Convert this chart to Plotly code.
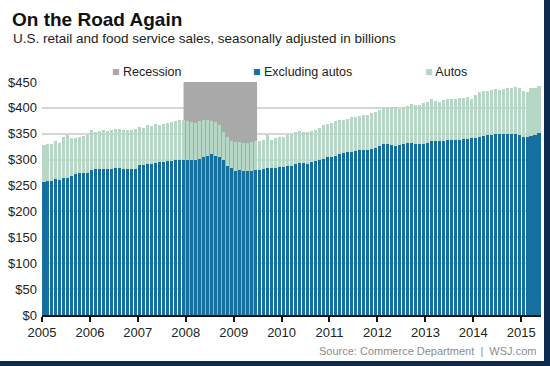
import pandas as pd
import plotly.graph_objects as go

# Monthly data, Jan 2005 - May 2015 (billions of dollars, seasonally adjusted)
start_month = "2005-01-01"
n_months = 125

excluding_autos = [
    257, 259, 259, 262, 261, 264, 264, 268, 272, 275, 275, 275,
    281, 282, 282, 282, 282, 282, 283, 283, 282, 282, 282, 282,
    289, 289, 291, 291, 293, 295, 295, 297, 297, 299, 299, 300,
    300, 300, 299, 301, 305, 308, 310, 308, 305, 299, 287, 283,
    279, 281, 279, 278, 278, 281, 281, 282, 283, 283, 284, 285,
    286, 287, 288, 292, 293, 293, 292, 295, 297, 299, 302, 305,
    306, 308, 311, 313, 314, 315, 317, 318, 318, 319, 321, 323,
    326, 330, 330, 328, 326, 328, 330, 332, 332, 331, 330, 331,
    333, 337, 336, 336, 336, 338, 338, 338, 338, 340, 340, 342,
    342, 344, 346, 347, 347, 349, 349, 349, 350, 350, 350, 347,
    344, 344, 346, 347, 351,
]

autos = [
    72, 72, 72, 74, 72, 80, 83, 74, 70, 68, 71, 72,
    76, 71, 73, 75, 73, 75, 76, 76, 76, 76, 76, 77,
    74, 73, 75, 74, 76, 72, 74, 74, 76, 75, 77, 76,
    74, 73, 72, 73, 71, 69, 65, 65, 61, 54, 57, 53,
    55, 53, 53, 54, 56, 55, 55, 56, 64, 55, 58, 58,
    58, 60, 61, 61, 62, 60, 61, 60, 61, 63, 64, 63,
    65, 66, 66, 64, 65, 67, 65, 66, 68, 68, 69, 69,
    70, 70, 72, 74, 76, 70, 72, 71, 75, 75, 75, 78,
    79, 80, 77, 76, 79, 79, 79, 79, 82, 80, 81, 75,
    83, 86, 87, 86, 87, 87, 85, 87, 89, 88, 91, 91,
    89, 86, 92, 91, 92,
]

recession_start = "2007-12-16"
recession_end = "2009-06-28"

y_ticks = [0, 50, 100, 150, 200, 250, 300, 350, 400, 450]
y_tick_labels = ["$" + str(v) for v in y_ticks]

months = pd.date_range(start_month, periods=n_months, freq="MS")

DARK = "#16709f"
LIGHT = "#b7d7c6"
GREY = "#a9a9a9"
FONT = "Liberation Sans, Arial, sans-serif"

fig = go.Figure()
fig.add_trace(go.Bar(x=months, y=excluding_autos, name="Excluding autos",
                     marker=dict(color=DARK, line=dict(width=0)),
                     xperiod="M1", xperiodalignment="middle"))
fig.add_trace(go.Bar(x=months, y=autos, name="Autos",
                     marker=dict(color=LIGHT, line=dict(width=0)),
                     xperiod="M1", xperiodalignment="middle"))

# Recession shading
fig.add_shape(type="rect", xref="x", yref="y", x0=recession_start, x1=recession_end,
              y0=0, y1=450, fillcolor=GREY, line=dict(width=0), layer="between")

W, H = 550, 366
ml, mr, mt, mb = 42, 9, 82, 51
pw, ph = W - ml - mr, H - mt - mb

def px_x(v):
    return (v - ml) / pw

def px_y(v):
    return (H - mb - v) / ph

# Frame "shadow" on right and bottom
fig.add_shape(type="rect", xref="paper", yref="paper",
              x0=px_x(544), x1=px_x(551), y0=px_y(367), y1=px_y(-1),
              fillcolor="#0d2a4f", line=dict(width=0), layer="above")
fig.add_shape(type="rect", xref="paper", yref="paper",
              x0=px_x(-1), x1=px_x(551), y0=px_y(367), y1=px_y(361),
              fillcolor="#0d2a4f", line=dict(width=0), layer="above")

annotations = [
    dict(text="<b>On the Road Again</b>", x=px_x(10), y=px_y(7), xref="paper", yref="paper",
         xanchor="left", yanchor="top", showarrow=False,
         font=dict(family=FONT, size=19, color="#111111")),
    dict(text="U.S. retail and food service sales, seasonally adjusted in billions",
         x=px_x(11), y=px_y(29), xref="paper", yref="paper",
         xanchor="left", yanchor="top", showarrow=False,
         font=dict(family=FONT, size=13.5, color="#222222")),
    dict(text=f'<span style="color:{GREY}">■</span> Recession',
         x=px_x(110), y=px_y(72), xref="paper", yref="paper",
         xanchor="left", yanchor="middle", showarrow=False,
         font=dict(family=FONT, size=12.5, color="#222222")),
    dict(text=f'<span style="color:{DARK}">■</span> Excluding autos',
         x=px_x(251), y=px_y(72), xref="paper", yref="paper",
         xanchor="left", yanchor="middle", showarrow=False,
         font=dict(family=FONT, size=12.5, color="#222222")),
    dict(text=f'<span style="color:{LIGHT}">■</span> Autos',
         x=px_x(423), y=px_y(72), xref="paper", yref="paper",
         xanchor="left", yanchor="middle", showarrow=False,
         font=dict(family=FONT, size=12.5, color="#222222")),
    dict(text="Source: Commerce Department  |  WSJ.com",
         x=px_x(538), y=px_y(351), xref="paper", yref="paper",
         xanchor="right", yanchor="middle", showarrow=False,
         font=dict(family=FONT, size=11, color="#8c8c8c")),
]

fig.update_layout(
    width=W, height=H,
    margin=dict(l=ml, r=mr, t=mt, b=mb, pad=0),
    paper_bgcolor="white", plot_bgcolor="white",
    barmode="stack", bargap=0.2,
    showlegend=False,
    annotations=annotations,
    font=dict(family=FONT, size=13, color="#222222"),
)
fig.update_xaxes(
    type="date", range=["2005-01-01", "2015-06-01"],
    tick0="2005-01-01", dtick="M12", tickformat="%Y",
    ticks="outside", ticklen=5, tickwidth=1.5, tickcolor="#111111",
    showline=True, linecolor="#111111", linewidth=1.5,
    showgrid=False, tickfont=dict(size=13, color="#222222"),
    automargin=False,
)
fig.update_yaxes(
    range=[0, 450], tickvals=y_ticks, ticktext=y_tick_labels,
    showgrid=True, gridcolor="#d6d6d6", gridwidth=1.5,
    zeroline=False, ticks="", ticklabelstandoff=4,
    tickfont=dict(size=13, color="#222222"),
    automargin=False,
)

fig.write_html(
    "out.html",
    config={"displayModeBar": False},
    post_script="document.body.style.margin='0';document.body.style.overflow='hidden';",
)
